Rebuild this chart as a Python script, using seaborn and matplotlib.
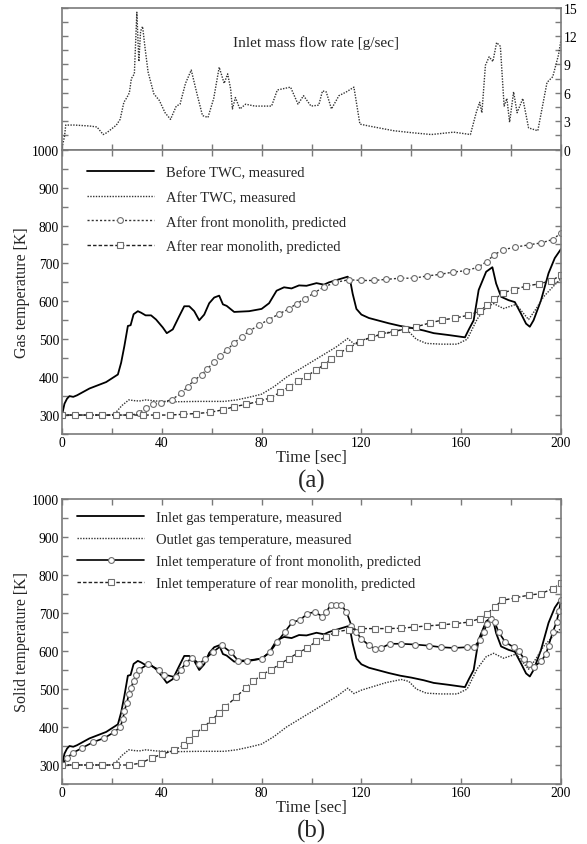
import matplotlib
matplotlib.use("Agg")
import matplotlib.pyplot as plt
from matplotlib.ticker import MultipleLocator
import seaborn as sns
import pandas as pd

# ---------------- data ----------------
flow_t = [0, 1, 1.5, 5, 11, 14, 16.5, 18, 21.8, 23.3, 24.8, 26, 27, 27.8, 29, 30, 30.8, 31.5,
          32.3, 33.3, 34.5, 36.8, 39, 41.3, 43.5, 45.8, 47.3, 49.5, 51.8, 54, 56.3, 58.5, 60.8,
          63, 65, 66.4, 67.6, 68.3, 69.5, 71.3, 73.6, 77.3, 84, 86.3, 91.6, 94.6, 96.8, 99.8,
          102.9, 104.4, 105.9, 108, 111, 114, 117, 119.4, 123, 127, 133, 140, 148, 157, 163.7,
          166, 167.4, 168.3, 169.7, 171.2, 172.7, 174.2, 175.7, 177.2, 178.3, 179.4, 181, 182.4,
          184.7, 187, 190.7, 194.4, 196.7, 199, 200]
flow_v = [0.2, 1.4, 2.6, 2.6, 2.5, 2.4, 1.6, 1.8, 2.6, 3.2, 5.0, 5.5, 6.0, 7.5, 8.0, 14.5, 9.3, 12.5,
          13.0, 10.7, 8.2, 5.9, 5.2, 3.9, 3.2, 4.6, 4.8, 7.0, 8.4, 6.0, 3.6, 3.4, 5.4,
          8.7, 7.0, 8.0, 6.4, 4.3, 5.5, 4.3, 4.8, 4.6, 4.6, 6.3, 6.6, 4.8, 5.7, 4.6,
          4.7, 6.2, 6.1, 4.3, 5.7, 6.1, 6.6, 2.7, 2.5, 2.3, 2.0, 1.8, 1.6, 1.85, 1.6,
          3.9, 5.0, 3.9, 8.9, 9.8, 9.3, 11.3, 10.9, 4.6, 5.4, 2.9, 6.1, 3.9,
          5.4, 2.3, 2.0, 7.1, 7.7, 10.0, 11.6]

# measured inlet gas temperature (before TWC)
inlet_t = [0, 1, 2, 3, 4.5, 6, 11, 17.7, 22.4, 23.7, 25, 26.4, 27.5, 28.7, 30.4, 31.7, 33.5, 35.7,
           37.7, 40.4, 42, 44.4, 47, 49, 51, 53, 55, 57, 59, 61, 63, 64.5, 66, 69, 75, 80, 83, 86,
           89, 92, 95, 98, 102, 105, 107, 110, 113, 114.5, 115.5, 116.5, 118, 120, 123, 127, 131,
           135.6, 140, 145, 149, 155, 161.5, 163, 165, 167, 170, 172.5, 174, 176, 179, 181.5, 184,
           186, 187.5, 189, 192, 195, 197.5, 200]
inlet_v = [300, 330, 343, 350, 348, 352, 370, 387, 407, 438, 482, 535, 537, 566, 574, 570, 563, 563,
           552, 531, 516, 526, 561, 587, 587, 574, 550, 565, 595, 610, 615, 592, 588, 572, 574, 580, 595, 628,
           637, 634, 642, 641, 648, 644, 650, 656, 662, 665, 655, 620, 580, 565, 556, 549, 542,
           535, 530, 523, 516, 511, 505, 525, 550, 630, 678, 690, 647, 612, 603, 598, 567,
           541, 533, 550, 603, 674, 714, 738]

# measured outlet gas temperature (after TWC)
outlet_t = [0, 20, 22, 24, 26.8, 29, 31, 33.7, 37.7, 45, 55, 65, 70, 75, 80, 85, 90, 95, 100, 105,
            110, 114.5, 117, 120, 125, 130, 136, 139, 142, 146, 152, 158.4, 162.4, 166.4, 170,
            173, 177, 182, 187, 190, 193, 197, 200]
outlet_v = [300, 300, 310, 325, 340, 338, 337, 340, 337, 335, 336, 336, 340, 347, 355, 375, 400, 420,
            440, 460, 480, 502, 488, 497, 507, 517, 525, 520, 500, 489, 487, 487, 500, 553, 585,
            594, 581, 592, 552, 580, 612, 640, 660]

# (a) predicted gas temperature after front monolith
fa_t = [0, 28, 31, 33.7, 36.4, 39.7, 44, 47.7, 50.4, 53, 56, 58, 61, 63.5, 66, 69, 72, 75, 79, 83,
        87, 91, 94, 97.5, 101, 105, 109.6, 115, 120, 125, 130, 135.5, 141, 146.4, 151.4, 156.6,
        162, 166.8, 170.2, 173.3, 176.7, 181.7, 187, 192, 196.6, 200]
fa_v = [300, 300, 306, 319, 328, 332, 341, 357, 375, 392, 406, 421, 439, 457, 471, 490, 507, 521,
        538, 552, 567, 580, 594, 607, 622, 638, 650, 657, 655, 655, 658, 661, 661, 667, 671, 677,
        681, 690, 705, 723, 736, 743, 749, 754, 763, 780]

# (a) predicted gas temperature after rear monolith
ra_t = [0, 5.3, 10.8, 16.2, 21.8, 27, 32.3, 37.5, 43.2, 48.5, 53.6, 59.3, 64.6, 69, 73.6, 78.8,
        83.3, 87.5, 90.8, 94.6, 98.3, 102, 105, 108, 111, 115, 119.4, 124, 128, 133, 137.6, 142,
        147.5, 152.5, 157.6, 162.7, 167.4, 170.4, 173.3, 176.6, 181, 186, 191, 196, 200]
ra_v = [300, 300, 300, 300, 300, 300, 300, 300, 300, 302, 304, 307, 314, 322, 328, 336,
        345, 360, 374, 389, 404, 419, 433, 448, 463, 478, 493, 506, 513, 520, 527, 533,
        543, 551, 556, 563, 574, 590, 605, 622, 631, 640, 646, 654, 669]

# (b) predicted inlet temperature of front monolith
fb_t = [0, 2, 4.4, 8.1, 12.4, 17, 21, 23.3, 24.4, 25, 26, 26.8, 27.7, 28.7, 29.7, 31, 34.4, 38.8,
        41, 45.5, 47.7, 49.7, 52.1, 55, 57.5, 60.5, 64, 67.6, 70.6, 74.3, 80, 83.3, 86.3, 89.3,
        92.3, 95.3, 98.3, 101.4, 104.4, 106, 107.7, 110, 112, 114, 116, 117.9, 120, 123, 125.4,
        128, 131.4, 136, 141.6, 147, 152, 157, 162.4, 165, 167.4, 169, 170.4, 172, 173.4, 175,
        177.6, 181, 183, 185.3, 187.3, 189.3, 192, 194, 195, 196.7, 198.2, 199.2, 200]
fb_v = [300, 319, 332, 345, 360, 371, 387, 400, 420, 442, 464, 486, 503, 521, 538, 551, 565, 551,
        538, 531, 551, 569, 582, 566, 580, 597, 615, 597, 575, 575, 580, 597, 624, 650,
        676, 681, 698, 703, 690, 703, 722, 722, 720, 703, 667, 650, 632, 615, 606,
        608, 619, 619, 617, 614, 610, 608, 610, 610, 628, 650, 672, 685, 676, 650,
        624, 610, 600, 579, 566, 559, 573, 592, 614, 650, 676, 705, 735]

# (b) predicted inlet temperature of rear monolith
rb_t = [0, 5.3, 10.7, 16.1, 21.5, 26.8, 31.7, 36, 40.1, 45, 48.7, 51, 53.5, 57, 60, 62.8, 65.3,
        69.8, 73.6, 76.6, 80, 83.6, 87.5, 90.8, 94.6, 98.3, 102, 105.9, 109.6, 114.9, 120, 125.4,
        130.6, 136, 141, 146.4, 152.4, 157.7, 163, 167.4, 170.4, 173.4, 176.4, 181.7, 187, 192,
        196.7, 200]
rb_v = [300, 300, 300, 300, 300, 300, 305, 319, 328, 339, 352, 367, 383, 401, 418, 436, 452,
        479, 503, 520, 537, 550, 566, 580, 595, 608, 626, 637, 650, 656, 659, 659,
        659, 660, 663, 666, 669, 672, 676, 685, 698, 716, 733, 740, 747, 751,
        764, 778]

legend_a = ["Before TWC, measured", "After TWC, measured",
            "After front monolith, predicted", "After rear monolith, predicted"]
legend_b = ["Inlet gas temperature, measured", "Outlet gas temperature, measured",
            "Inlet temperature of front monolith, predicted",
            "Inlet temperature of rear monolith, predicted"]

# ---------------- style ----------------
sns.set_style("ticks")
plt.rcParams["font.family"] = ["Liberation Serif", "DejaVu Serif"]

SPINE = "#7a7a7a"
MK = "#6e6e6e"
TICK_FS = 9.8

fig = plt.figure(figsize=(5.87, 8.45), dpi=100)
L, W = 62 / 587, 499 / 587
ax0 = fig.add_axes([L, 1 - 150.7 / 845, W, (150.7 - 8.5) / 845])
axa = fig.add_axes([L, 1 - 435 / 845, W, (435 - 150.7) / 845])
axb = fig.add_axes([L, 1 - 785 / 845, W, (785 - 500) / 845])


def style_axes(ax):
    for s in ax.spines.values():
        s.set_color(SPINE)
        s.set_linewidth(1.2)
    ax.tick_params(which="both", direction="in", color=SPINE, width=1.0, length=4,
                   labelsize=TICK_FS, labelcolor="black")


# ---- top: inlet mass flow ----
df_flow = pd.DataFrame({"t": flow_t, "m": flow_v})
sns.lineplot(data=df_flow, x="t", y="m", ax=ax0, color="#333333", linewidth=1.0,
             linestyle=(0, (1, 1)), estimator=None, sort=False)
ax0.set_xlim(0, 200)
ax0.set_ylim(0, 15)
style_axes(ax0)
ax0.xaxis.set_major_locator(MultipleLocator(20))
ax0.yaxis.set_major_locator(MultipleLocator(3))
ax0.yaxis.set_minor_locator(MultipleLocator(1.5))
ax0.tick_params(which="both", top=False, bottom=True, labelbottom=False,
                left=True, right=True, labelleft=False, labelright=True, pad=2)
ax0.set_xlabel("")
ax0.set_ylabel("")
ax0.text(0.509, 0.76, "Inlet mass flow rate [g/sec]", transform=ax0.transAxes,
         ha="center", va="center", fontsize=11)


def measured(ax, labels):
    df_in = pd.DataFrame({"t": inlet_t, "T": inlet_v})
    df_out = pd.DataFrame({"t": outlet_t, "T": outlet_v})
    sns.lineplot(data=df_in, x="t", y="T", ax=ax, color="black", linewidth=1.3,
                 estimator=None, sort=False, label=labels[0])
    sns.lineplot(data=df_out, x="t", y="T", ax=ax, color="#333333", linewidth=1.0,
                 linestyle=(0, (1, 1)), estimator=None, sort=False, label=labels[1])


def finish(ax, ylabel, tag, legend_anchor, lspace, tag_y):
    ax.set_xlim(0, 200)
    ax.set_ylim(250, 1000)
    style_axes(ax)
    ax.xaxis.set_major_locator(MultipleLocator(40))
    ax.xaxis.set_minor_locator(MultipleLocator(20))
    ax.yaxis.set_major_locator(MultipleLocator(100))
    ax.yaxis.set_minor_locator(MultipleLocator(50))
    ax.tick_params(which="both", top=True, right=True)
    ax.tick_params(axis="x", pad=1.5)
    ax.tick_params(axis="y", pad=2)
    ax.set_xlabel("Time [sec]", fontsize=12, labelpad=0)
    ax.set_ylabel(ylabel, fontsize=11.5)
    ax.yaxis.set_label_coords(-0.064, 0.5)
    ax.legend(loc="upper left", bbox_to_anchor=legend_anchor, frameon=False,
              fontsize=10.5, handlelength=4.6, handletextpad=0.8, borderpad=0,
              borderaxespad=0, labelspacing=lspace, numpoints=1)
    fig.text(L + W / 2, tag_y, tag, ha="center", va="center", fontsize=18)


# ---- panel (a) ----
measured(axa, legend_a)
df_fa = pd.DataFrame({"t": fa_t, "T": fa_v})
df_ra = pd.DataFrame({"t": ra_t, "T": ra_v})
sns.lineplot(data=df_fa, x="t", y="T", ax=axa, color="#333333", linewidth=1.0,
             linestyle=(0, (1.5, 1.5)), marker="o", markersize=4.2, markerfacecolor="white",
             markeredgecolor=MK, markeredgewidth=0.8, markevery=list(range(2, len(fa_t))),
             estimator=None, sort=False, label=legend_a[2])
sns.lineplot(data=df_ra, x="t", y="T", ax=axa, color="#222222", linewidth=1.0,
             linestyle=(0, (2.5, 1.5)), marker="s", markersize=3.8, markerfacecolor="white",
             markeredgecolor=MK, markeredgewidth=0.8,
             estimator=None, sort=False, label=legend_a[3])
finish(axa, "Gas temperature [K]", "(a)", (0.05, 0.942), 0.76, 1 - 481 / 845)

# ---- panel (b) ----
measured(axb, legend_b)
df_fb = pd.DataFrame({"t": fb_t, "T": fb_v})
df_rb = pd.DataFrame({"t": rb_t, "T": rb_v})
sns.lineplot(data=df_fb, x="t", y="T", ax=axb, color="black", linewidth=1.2,
             marker="o", markersize=4.2, markerfacecolor="white",
             markeredgecolor=MK, markeredgewidth=0.8,
             estimator=None, sort=False, label=legend_b[2])
sns.lineplot(data=df_rb, x="t", y="T", ax=axb, color="#222222", linewidth=1.0,
             linestyle=(0, (2.5, 1.5)), marker="s", markersize=3.8, markerfacecolor="white",
             markeredgecolor=MK, markeredgewidth=0.8,
             estimator=None, sort=False, label=legend_b[3])
finish(axb, "Solid temperature [K]", "(b)", (0.03, 0.958), 0.58, 1 - 831 / 845)

fig.savefig("out.png", dpi=100, facecolor="white")
